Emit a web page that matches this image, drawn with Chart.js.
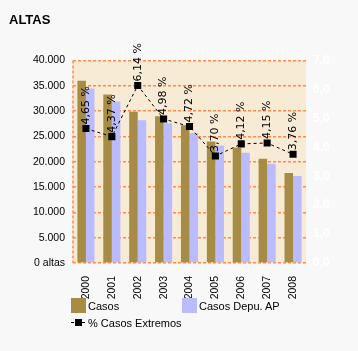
<!DOCTYPE html>
<html><head><meta charset="utf-8">
<script src="https://cdn.jsdelivr.net/npm/chart.js@4/dist/chart.umd.min.js"></script>
<style>
html,body{margin:0;padding:0;background:#F8F8F8;}
#wrap{position:relative;width:358px;height:351px;overflow:hidden;}
#c{position:absolute;left:0;top:0;}
.lg{position:absolute;display:flex;align-items:center;height:15px;font:11px "Liberation Sans",Arial,sans-serif;color:#000;white-space:nowrap;}
.box{width:15px;height:15px;margin-right:2px;}
.ln{position:relative;width:14px;height:15px;margin-right:3px;}
.ln .d{position:absolute;left:0;top:7px;width:14px;border-top:1px dashed #000;}
.ln .s{position:absolute;left:4px;top:4px;width:7px;height:7px;background:#000;}
</style></head>
<body><div id="wrap"><canvas id="c" width="358" height="351"></canvas><div id="legend"></div></div>
<script>
const categories = ['2000','2001','2002','2003','2004','2005','2006','2007','2008'];
const casos = [36000, 33300, 29900, 29000, 27200, 24000, 22800, 20600, 17800];
const casosDepu = [34500, 31900, 28200, 27600, 25700, 23200, 21800, 19600, 17200];
const pctExtremos = [4.65, 4.37, 6.14, 4.98, 4.72, 3.70, 4.12, 4.15, 3.76];
const seriesNames = ['Casos', 'Casos Depu. AP', '% Casos Extremos'];
const leftAxis = {min: 0, max: 40000, step: 5000, zeroLabel: '0 altas'};
const rightAxis = {min: 0, max: 7, step: 1};
const titleText = 'ALTAS';

const ORANGE = '#FF8A4A';
const FONT = '"Liberation Sans", Arial, sans-serif';

const plotBg = {
  id: 'plotBg',
  beforeDraw(chart) {
    const a = chart.chartArea, ctx = chart.ctx;
    ctx.save();
    ctx.fillStyle = '#F7EBD6';
    ctx.fillRect(a.left, a.top, a.right - a.left, a.bottom - a.top);
    ctx.restore();
  },
  afterDraw(chart) {
    const a = chart.chartArea, ctx = chart.ctx;
    ctx.save();
    ctx.strokeStyle = ORANGE;
    ctx.lineWidth = 1.5;
    ctx.setLineDash([3, 2]);
    ctx.beginPath();
    ctx.moveTo(a.left, a.top);
    ctx.lineTo(a.left, a.bottom);
    ctx.stroke();
    ctx.restore();
  }
};

const pointLabels = {
  id: 'pointLabels',
  afterDatasetsDraw(chart) {
    const ctx = chart.ctx;
    chart.data.datasets.forEach((ds, di) => {
      if (ds.type !== 'line') return;
      const meta = chart.getDatasetMeta(di);
      meta.data.forEach((pt, i) => {
        const txt = ds.data[i].toFixed(2).replace('.', ',') + ' %';
        ctx.save();
        ctx.translate(pt.x, pt.y - 4);
        ctx.rotate(-Math.PI / 2);
        ctx.font = '11px "DejaVu Sans", Verdana, sans-serif';
        ctx.fillStyle = '#000';
        ctx.textAlign = 'left';
        ctx.textBaseline = 'middle';
        ctx.fillText(txt, 0, 0);
        ctx.restore();
      });
    });
  }
};

const htmlLegend = {
  id: 'htmlLegend',
  afterUpdate(chart) {
    const el = document.getElementById('legend');
    el.innerHTML = '';
    const order = chart.data.datasets
      .map((ds, i) => ({ds, i}))
      .sort((a, b) => (a.ds.legendIndex) - (b.ds.legendIndex));
    order.forEach(({ds}, k) => {
      const item = document.createElement('div');
      item.className = 'lg';
      item.style.left = (71 + (k % 2) * 111) + 'px';
      item.style.top = (298 + Math.floor(k / 2) * 17) + 'px';
      let sym = document.createElement('span');
      if (ds.type === 'line') {
        sym.className = 'ln';
        sym.innerHTML = '<span class="d"></span><span class="s"></span>';
      } else {
        sym.className = 'box';
        sym.style.background = ds.backgroundColor;
      }
      item.appendChild(sym);
      const t = document.createElement('span');
      t.textContent = ds.label;
      item.appendChild(t);
      el.appendChild(item);
    });
  }
};

new Chart(document.getElementById('c'), {
  type: 'bar',
  data: {
    labels: categories,
    datasets: [
      {type: 'line', label: seriesNames[2], legendIndex: 2, data: pctExtremos, yAxisID: 'y1', order: 0,
       borderColor: '#000', borderWidth: 1, borderDash: [3, 3], backgroundColor: '#000',
       pointStyle: 'rect', pointRadius: 5, pointBackgroundColor: '#000', pointBorderWidth: 0, tension: 0},
      {label: seriesNames[0], legendIndex: 0, data: casos, yAxisID: 'y', order: 1, backgroundColor: '#A68C45',
       categoryPercentage: 0.66, barPercentage: 1.0},
      {label: seriesNames[1], legendIndex: 1, data: casosDepu, yAxisID: 'y', order: 1, backgroundColor: '#BBBBFF',
       categoryPercentage: 0.66, barPercentage: 1.0}
    ]
  },
  options: {
    responsive: false,
    devicePixelRatio: 1,
    animation: false,
    layout: {padding: {left: 9, right: 0, top: 0, bottom: 0}},
    plugins: {
      legend: {display: false},
      tooltip: {enabled: false},
      title: {display: true, text: titleText, align: 'start', color: '#000',
              font: {family: FONT, size: 13, weight: 'bold'}, padding: {top: 13, bottom: 32}}
    },
    scales: {
      x: {
        grid: {display: false},
        border: {display: false},
        ticks: {autoSkip: false, minRotation: 90, maxRotation: 90, padding: 5, color: '#000',
                font: {family: FONT, size: 10.5}},
        afterFit(s) { s.height = 88; }
      },
      y: {
        position: 'left', min: leftAxis.min, max: leftAxis.max,
        grid: {color: ORANGE, lineWidth: 1.5, drawTicks: false},
        border: {display: false, color: ORANGE, width: 1.5, dash: [3, 2]},
        ticks: {stepSize: leftAxis.step, padding: 8, color: '#000', font: {family: FONT, size: 10.5},
                callback: v => v === 0 ? leftAxis.zeroLabel : v.toLocaleString('de-DE')},
        afterFit(s) { s.width = 64; }
      },
      y1: {
        position: 'right', min: rightAxis.min, max: rightAxis.max,
        grid: {drawOnChartArea: false, drawTicks: false},
        border: {display: false},
        ticks: {stepSize: rightAxis.step, padding: 7, color: '#FFFFFF',
                font: {family: FONT, size: 12, weight: 'bold'},
                callback: v => v.toFixed(1).replace('.', ',')},
        afterFit(s) { s.width = 52; }
      }
    }
  },
  plugins: [plotBg, pointLabels, htmlLegend]
});
</script>
</body></html>
